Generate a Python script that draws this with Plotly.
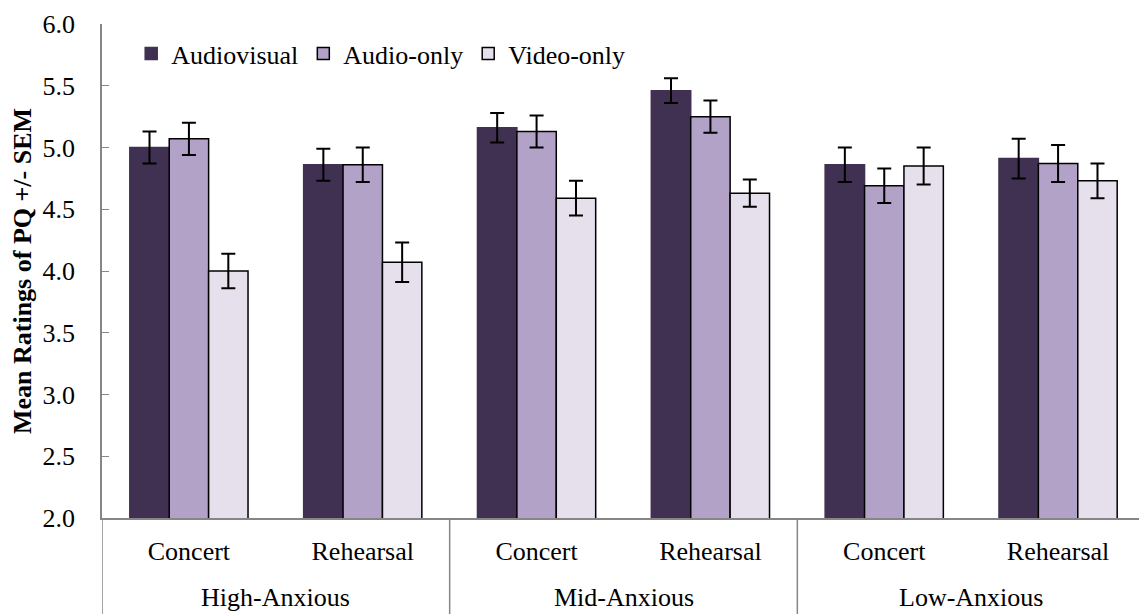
import plotly.graph_objects as go

groups = ["High-Anxious", "High-Anxious", "Mid-Anxious", "Mid-Anxious", "Low-Anxious", "Low-Anxious"]
conditions = ["Concert", "Rehearsal", "Concert", "Rehearsal", "Concert", "Rehearsal"]

audiovisual = [5.00, 4.86, 5.16, 5.46, 4.86, 4.91]
audiovisual_sem = [0.13, 0.13, 0.12, 0.10, 0.14, 0.16]
audio_only = [5.07, 4.86, 5.13, 5.25, 4.69, 4.87]
audio_only_sem = [0.13, 0.14, 0.13, 0.13, 0.14, 0.15]
video_only = [4.00, 4.07, 4.59, 4.63, 4.85, 4.73]
video_only_sem = [0.14, 0.16, 0.14, 0.11, 0.15, 0.14]

series = [
    ("Audiovisual", audiovisual, audiovisual_sem, "#403152", "#403152"),
    ("Audio-only", audio_only, audio_only_sem, "#B3A2C7", "#000000"),
    ("Video-only", video_only, video_only_sem, "#E5E0EC", "#000000"),
]

font = "Liberation Serif"
FS = 26
AXC = "#868686"
idx = list(range(len(conditions)))

fig = go.Figure()
for name, vals, sem, color, line in series:
    fig.add_trace(go.Bar(
        name=name, x=idx, y=vals,
        marker=dict(color=color, line=dict(color=line, width=1.5)),
        error_y=dict(type="data", array=sem, color="black", thickness=2, width=7),
    ))

# group labels and dividers below the category axis
group_names = []
for g in groups:
    if g not in group_names:
        group_names.append(g)
for g in group_names:
    members = [i for i, gg in enumerate(groups) if gg == g]
    center = sum(members) / len(members)
    fig.add_annotation(x=center, xref="x", y=-0.161, yref="paper", yanchor="middle",
                       text=g, showarrow=False, font=dict(family=font, size=FS, color="black"))
bounds = [-0.5] + [i + 0.5 for i in range(len(groups) - 1) if groups[i] != groups[i + 1]] + [len(groups) - 0.5]
for b in bounds:
    fig.add_shape(type="line", xref="x", yref="paper", x0=b, x1=b, y0=0, y1=-0.2,
                  line=dict(color=AXC, width=1.5))

fig.update_layout(
    width=1139, height=606,
    margin=dict(l=94, r=2, t=14, b=96),
    plot_bgcolor="white", paper_bgcolor="white",
    barmode="group", bargap=0.32, bargroupgap=0,
    font=dict(family=font, size=FS, color="black"),
    legend=dict(orientation="h", x=0.028, y=0.94, xanchor="left", yanchor="middle",
                font=dict(family=font, size=FS), bgcolor="rgba(0,0,0,0)", itemwidth=30,
                traceorder="normal"),
    showlegend=True,
)
fig.update_yaxes(range=[2.0, 6.0], dtick=0.5, tickformat=".1f",
                 showline=True, linecolor=AXC, linewidth=1.5,
                 ticks="inside", tickcolor=AXC, ticklen=7, ticklabelstandoff=20,
                 showgrid=False, zeroline=False, tickfont=dict(family=font, size=FS),
                 title=dict(text="<b>Mean Ratings of PQ +/- SEM</b>", standoff=8,
                            font=dict(family=font, size=FS)))
fig.update_xaxes(range=[-0.5, len(conditions) - 0.5], tickmode="array", tickvals=idx, ticktext=conditions,
                 showline=True, linecolor=AXC, linewidth=1.5,
                 ticks="outside", tickcolor="rgba(0,0,0,0)", ticklen=9,
                 showgrid=False, tickfont=dict(family=font, size=FS))

fig.write_html("out.html")
